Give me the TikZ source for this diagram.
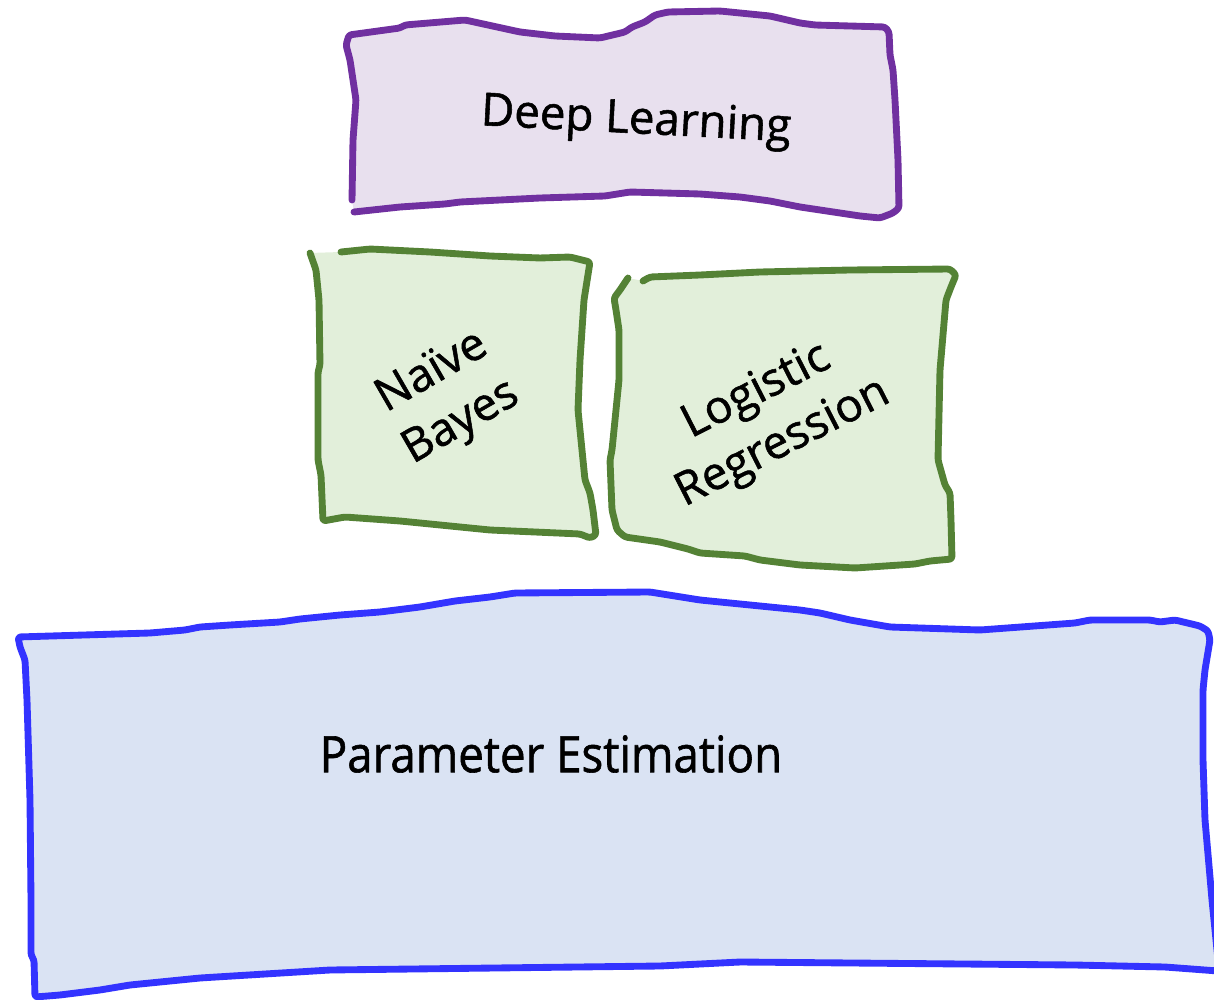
\documentclass[tikz,border=0pt]{standalone}
\usepackage{fontspec}
\setmainfont{Open Sans}[FakeBold=1.2]
\definecolor{dlline}{HTML}{7030A0}
\definecolor{dlfill}{HTML}{E8E0EE}
\definecolor{mlline}{HTML}{548235}
\definecolor{mlfill}{HTML}{E2EFDA}
\definecolor{peline}{HTML}{3333FF}
\definecolor{pefill}{HTML}{DAE3F3}
\tikzset{
	sketch/.style={line width=3.9pt, line join=round, line cap=round, rounded corners=1.5pt},
	lbl/.style={font=\fontsize{26}{33}\selectfont, align=center, inner sep=0pt}
}
\begin{document}
\begin{tikzpicture}[x=0.02cm, y=-0.02cm]
	\useasboundingbox (0,0) rectangle (1214,1000);
	\clip (0,0) rectangle (1214,1000);
				% deep learning
				\draw[sketch, draw=dlline, fill=dlfill] (352,200)--(353,140)--(356,100)--(350,60)--(346,45)--(349,35)--(400,28)--(405,25)--(465,20)--(520,32)--(555,36)--(600,38)--(625,32)--(632,27)--(645,22)--(655,15)--(668,12)--(720,11)--(770,16)--(800,23)--(815,25)--(885,27)--(889,32)--(890,55)--(893,70)--(895,100)--(898,160)--(899,208)--(893,213)--(880,218)--(860,216)--(820,210)--(800,207)--(770,201)--(740,197)--(700,194)--(630,192)--(605,196)--(540,198)--(460,202)--(445,204)--(400,207)--(354,212);
				% naive bayes
				\draw[sketch, draw=mlline, fill=mlfill] (341,252)--(370,249)--(430,252)--(490,256)--(540,258)--(570,257)--(590,262)--(584,300)--(580,360)--(578,410)--(582,450)--(585,480)--(590,493)--(593,510)--(596,535)--(590,538)--(580,534)--(490,530)--(430,524)--(400,521)--(345,517)--(323,521)--(321,475)--(318,460)--(318,372)--(320,365)--(319,300)--(316,270)--(310,253);
				% logistic regression
				\draw[sketch, draw=mlline, fill=mlfill] (643,281)--(650,277)--(700,275)--(760,272)--(850,270)--(950,269)--(956,275)--(951,287)--(946,300)--(940,370)--(938,460)--(945,485)--(950,493)--(951,520)--(952,559)--(930,561)--(915,564)--(855,568)--(800,565)--(760,560)--(745,556)--(700,553)--(688,549)--(660,542)--(625,537)--(617,530)--(612,510)--(610,460)--(612,450)--(616,410)--(619,380)--(619,330)--(616,310)--(614,298)--(620,290)--(628,278);
				% parameter estimation
				\draw[sketch, draw=peline, fill=pefill] (18,637)--(150,633)--(185,630)--(200,627)--(230,625)--(280,622)--(300,619)--(340,615)--(380,612)--(420,607)--(455,601)--(490,597)--(515,593)--(650,592)--(700,600)--(760,606)--(800,610)--(820,613)--(850,620)--(890,627)--(980,630)--(1075,623)--(1090,620)--(1150,620)--(1160,622)--(1175,620)--(1200,626)--(1208,631)--(1210,640)--(1205,670)--(1203,690)--(1203,760)--(1205,820)--(1212,900)--(1218,960)--(1218,971)--(1165,967)--(1075,965)--(740,962)--(660,966)--(330,970)--(200,978)--(130,985)--(100,990)--(60,995)--(35,997)--(34,960)--(31,955)--(31,900)--(30,800)--(27,700)--(25,660)--(20,647)--cycle;
				% labels
				\node[lbl, rotate=-3] (dl) at (636,122) {Deep Learning};
				\node[lbl, rotate=30] (nb) at (447,398) {Naïve\\Bayes};
				\node[lbl, rotate=27] (lr) at (770,418) {Logistic\\Regression};
				\node[lbl, yscale=1.1] (pe) at (551,754) {Parameter Estimation};
	\end{tikzpicture}
\end{document}
